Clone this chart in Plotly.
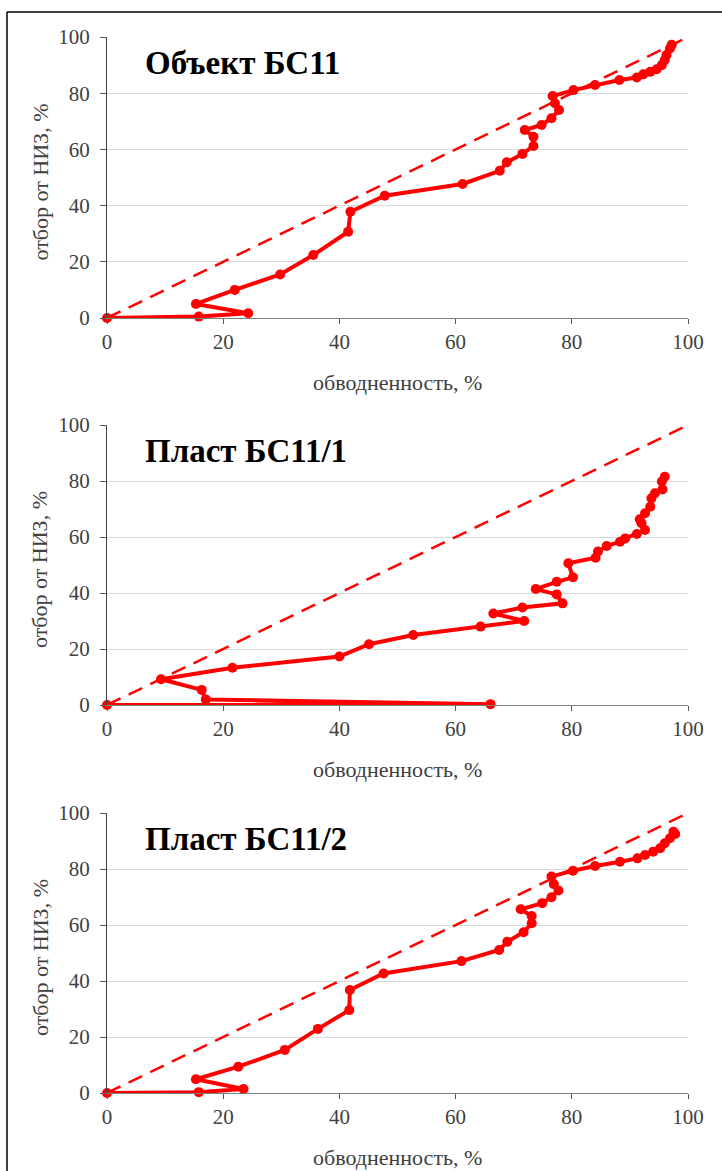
import plotly.graph_objects as go

W, H = 722, 1171

titles = ["Объект БС11", "Пласт БС11/1", "Пласт БС11/2"]
x_title = "обводненность, %"
y_title = "отбор от НИЗ, %"
tick_vals = [0, 20, 40, 60, 80, 100]
diag = [0, 100]

obj_x = [0, 15.8, 24.3, 15.3, 22.0, 29.8, 35.5, 41.5, 41.9, 47.8, 61.2, 67.6, 68.8, 71.5, 73.4, 73.4,
         71.9, 74.8, 76.5, 77.8, 77.1, 76.7, 80.3, 84.0, 88.2, 91.2, 92.3, 93.5, 94.6, 95.5, 96.0,
         96.3, 96.9, 97.2]
obj_y = [0, 0.5, 1.7, 5.0, 10.0, 15.5, 22.4, 30.7, 37.8, 43.5, 47.7, 52.4, 55.4, 58.4, 61.2, 64.5,
         66.9, 68.7, 71.1, 74.0, 76.4, 79.0, 81.1, 82.9, 84.7, 85.6, 86.7, 87.6, 88.5, 90.0, 91.8,
         93.6, 95.9, 97.2]

p1_x = [0, 66.0, 17.0, 16.3, 9.3, 21.6, 40.0, 45.1, 52.7, 64.3, 71.8, 66.5, 71.5, 78.4, 77.4, 73.8,
        77.4, 80.2, 79.4, 84.1, 84.5, 86.0, 88.3, 89.2, 91.2, 92.6, 92.0, 91.7, 92.6, 93.5, 93.7,
        94.3, 95.6, 95.5, 96.0]
p1_y = [0, 0.3, 2.0, 5.4, 9.2, 13.3, 17.3, 21.7, 25.0, 28.0, 30.0, 32.7, 34.8, 36.3, 39.5, 41.4,
        44.0, 45.6, 50.6, 52.6, 54.8, 56.8, 58.3, 59.5, 61.1, 62.5, 64.9, 66.3, 68.5, 70.8, 73.8,
        75.6, 77.0, 79.8, 81.5]

p2_x = [0, 15.8, 23.5, 15.3, 22.6, 30.6, 36.3, 41.7, 41.8, 47.6, 61.0, 67.5, 68.9, 71.7, 73.1, 73.1,
        71.2, 74.9, 76.5, 77.7, 76.9, 76.5, 80.2, 84.0, 88.3, 91.3, 92.6, 94.0, 95.2, 96.0, 96.9,
        97.8, 97.5]
p2_y = [0, 0.3, 1.4, 4.9, 9.4, 15.4, 22.9, 29.6, 36.8, 42.7, 47.1, 51.1, 54.0, 57.4, 60.6, 63.2,
        65.6, 67.8, 69.9, 72.3, 74.6, 77.3, 79.4, 81.1, 82.6, 83.8, 85.0, 86.2, 87.4, 89.2, 91.0,
        92.5, 93.3]

series = [(obj_x, obj_y), (p1_x, p1_y), (p2_x, p2_y)]

RED = "#FF0000"
SERIF = "Liberation Serif, Times New Roman, serif"
GRAY = "#595959"

# pixel layout of plot areas (top, bottom)
px_left, px_right = 107, 688
panels_px = [(37, 318), (425, 705), (813, 1093)]

fig = go.Figure()
layout = dict(
    width=W, height=H, autosize=False,
    margin=dict(l=0, r=0, t=0, b=0, pad=0),
    paper_bgcolor="white", plot_bgcolor="white",
    showlegend=False,
    font=dict(family=SERIF, color=GRAY),
)
annotations = []
shapes = []

for i, ((sx, sy), (top, bot)) in enumerate(zip(series, panels_px)):
    n = "" if i == 0 else str(i + 1)
    xa, ya = "x" + n, "y" + n
    fig.add_trace(go.Scatter(x=diag, y=diag, mode="lines", xaxis=xa, yaxis=ya,
                             line=dict(color=RED, width=2.5, dash="15px,9px"),
                             cliponaxis=False, hoverinfo="skip"))
    fig.add_trace(go.Scatter(x=sx, y=sy, mode="lines+markers", xaxis=xa, yaxis=ya,
                             line=dict(color=RED, width=4),
                             marker=dict(color=RED, size=10),
                             cliponaxis=False))
    ydom = [1 - bot / H, 1 - top / H]
    layout["xaxis" + n] = dict(
        domain=[px_left / W, px_right / W], range=[0, 100], anchor=ya, automargin=False,
        tickvals=tick_vals, ticks="outside", ticklen=5, tickcolor=GRAY,
        showgrid=False, zeroline=False, showline=True, linecolor="#7f7f7f", linewidth=1,
        tickfont=dict(family=SERIF, size=21, color="#404040"),
    )
    layout["yaxis" + n] = dict(
        domain=ydom, range=[0, 100], anchor=xa, automargin=False,
        tickvals=tick_vals, ticks="outside", ticklen=6, tickcolor=GRAY,
        showgrid=True, gridcolor="#d9d9d9", gridwidth=1.3, zeroline=False,
        showline=True, linecolor="#404040", linewidth=1.3,
        tickfont=dict(family=SERIF, size=21, color="#404040"),
        ticklabelstandoff=6,
    )
    annotations.append(dict(
        text="<b>" + titles[i] + "</b>", xref="paper", yref="paper",
        x=143 / W, y=1 - (top + 26) / H, xanchor="left", yanchor="middle",
        showarrow=False, font=dict(family=SERIF, size=33, color="black")))
    annotations.append(dict(
        text=x_title, xref="paper", yref="paper",
        x=(px_left + px_right) / 2 / W, y=1 - (bot + 64) / H,
        xanchor="center", yanchor="middle", showarrow=False,
        font=dict(family=SERIF, size=22, color="#404040")))
    annotations.append(dict(
        text=y_title, xref="paper", yref="paper", textangle=-90,
        x=40 / W, y=1 - ((top + bot) / 2 + 5) / H,
        xanchor="center", yanchor="middle", showarrow=False,
        font=dict(family=SERIF, size=22, color="#404040")))

# outer frame (top and left edges)
shapes.append(dict(type="line", xref="paper", yref="paper", x0=7 / W, x1=1, y0=1 - 12 / H, y1=1 - 12 / H,
                   line=dict(color="black", width=1.5)))
shapes.append(dict(type="line", xref="paper", yref="paper", x0=7 / W, x1=7 / W, y0=0, y1=1 - 12 / H,
                   line=dict(color="black", width=1.5)))

layout["annotations"] = annotations
layout["shapes"] = shapes
fig.update_layout(**layout)
fig.write_html(
    "out.html",
    config={"displayModeBar": False},
    post_script=("document.documentElement.style.margin='0';document.body.style.margin='0';"
                 "document.body.style.padding='0';document.documentElement.style.overflow='hidden';"
                 "document.body.style.overflow='hidden';"),
)
